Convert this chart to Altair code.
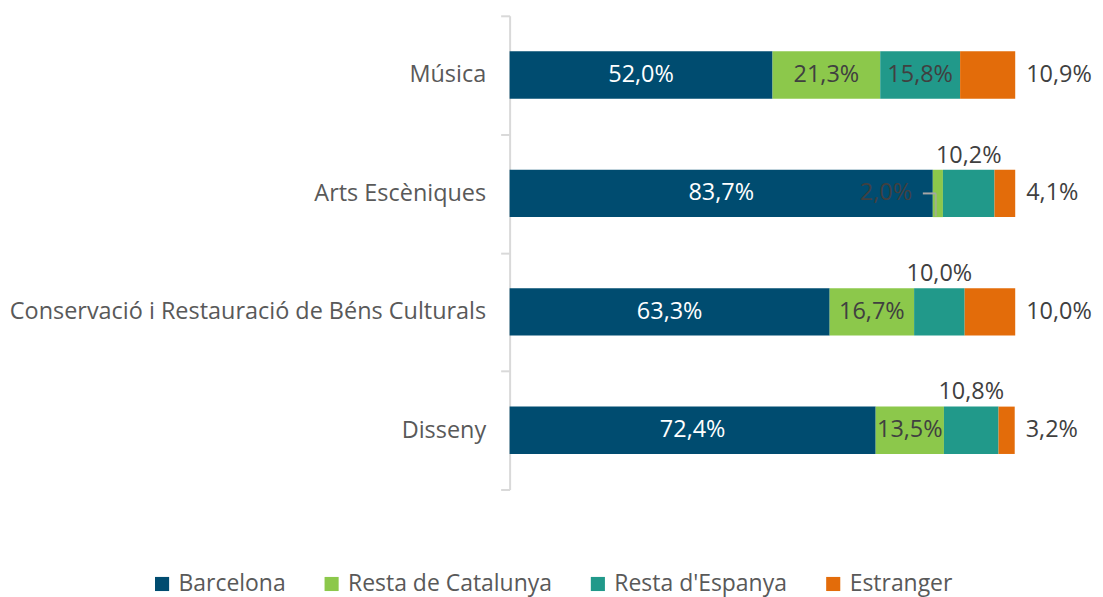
import altair as alt
import pandas as pd

categories = ["Música", "Arts Escèniques", "Conservació i Restauració de Béns Culturals", "Disseny"]
series = ["Barcelona", "Resta de Catalunya", "Resta d'Espanya", "Estranger"]
barcelona = [52.0, 83.7, 63.3, 72.4]
resta_catalunya = [21.3, 2.0, 16.7, 13.5]
resta_espanya = [15.8, 10.2, 10.0, 10.8]
estranger = [10.9, 4.1, 10.0, 3.2]
colors = ["#004c70", "#8cc84b", "#21998a", "#e36c0a"]

rows = []
for i, c in enumerate(categories):
    for j, (s, vals) in enumerate(zip(series, [barcelona, resta_catalunya, resta_espanya, estranger])):
        rows.append({"cat": c, "serie": s, "value": vals[i], "ord": j,
                     "label": f"{vals[i]:.1f}".replace(".", ",") + "%"})
df = pd.DataFrame(rows)

FONT = "Open Sans"
FS = 23.5

base = alt.Chart(df).transform_stack(
    stack="value", groupby=["cat"], as_=["x0", "x1"],
    sort=[alt.SortField("ord", order="ascending")]
).transform_calculate(mid="(datum.x0 + datum.x1) / 2")

y = alt.Y("cat:N", sort=categories, title=None,
          scale=alt.Scale(paddingInner=0, paddingOuter=0),
          axis=alt.Axis(domainColor="#d9d9d9", domainWidth=2, tickColor="#d9d9d9",
                        tickWidth=2, tickSize=9, tickBand="extent",
                        labelFont=FONT, labelFontSize=FS, labelColor="#595959",
                        labelPadding=15, labelLimit=700))
xs = alt.Scale(domain=[0, 100], nice=False, zero=False)

bars = base.mark_bar(height=alt.RelativeBandSize(band=0.4)).encode(
    x=alt.X("x0:Q", scale=xs, axis=None),
    x2="x1:Q",
    y=y,
    color=alt.Color("serie:N", scale=alt.Scale(domain=series, range=colors),
                    legend=alt.Legend(title=None, orient="none", direction="horizontal",
                                      legendX=-360, legendY=558, symbolType="square",
                                      symbolSize=200, symbolStrokeWidth=0, labelFont=FONT,
                                      labelFontSize=23, labelColor="#595959", labelOffset=5,
                                      columnPadding=34, padding=0, labelLimit=400)),
    order=alt.Order("ord:Q"),
)

txt = dict(font=FONT, fontSize=FS, baseline="middle")

lab_bcn = base.transform_filter("datum.serie === 'Barcelona'").mark_text(
    color="white", align="center", **txt).encode(x=alt.X("mid:Q", scale=xs), y=y, text="label:N")

lab_in = base.transform_filter(
    "(datum.serie === 'Resta de Catalunya' && datum.cat !== 'Arts Escèniques') || "
    "(datum.serie === \"Resta d'Espanya\" && datum.cat === 'Música')"
).mark_text(color="#404040", align="center", **txt).encode(
    x=alt.X("mid:Q", scale=xs), y=y, text="label:N")

lab_above = base.transform_filter(
    "datum.serie === \"Resta d'Espanya\" && datum.cat !== 'Música'"
).mark_text(color="#404040", align="center", yOffset=-38, **txt).encode(
    x=alt.X("mid:Q", scale=xs), y=y, text="label:N")

lab_out = base.transform_filter("datum.serie === 'Estranger'").mark_text(
    color="#404040", align="left", dx=11, **txt).encode(
    x=alt.X("x1:Q", scale=xs), y=y, text="label:N")

small = base.transform_filter(
    "datum.serie === 'Resta de Catalunya' && datum.cat === 'Arts Escèniques'")

lab_small = small.mark_text(color="#404040", align="center", dx=-47, **txt).encode(
    x=alt.X("x0:Q", scale=xs), y=y, text="label:N")

lead_h = small.mark_rule(color="#a6a6a6", strokeWidth=2, xOffset=-10, x2Offset=3).encode(
    x=alt.X("x0:Q", scale=xs), x2="x0:Q", y=y)

lead_v = small.mark_tick(color="#a6a6a6", orient="vertical", thickness=2, size=23,
                         xOffset=3, yOffset=11.5).encode(
    x=alt.X("x0:Q", scale=xs), y=y)

chart = alt.layer(bars, lab_bcn, lab_in, lab_above, lab_out, lead_h, lead_v, lab_small).properties(
    width=507, height=475,
    autosize=alt.AutoSizeParams(type="none"),
    padding={"left": 503, "top": 7, "right": 80, "bottom": 115},
).configure_view(stroke=None).configure_axis(grid=False)

chart.save("out.html", embed_options={"renderer": "svg", "actions": False})
